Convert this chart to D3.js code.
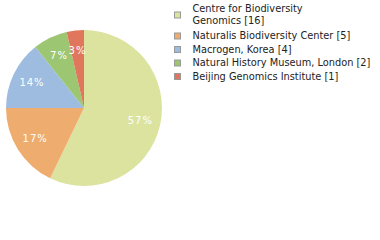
<!DOCTYPE html>
<html><head><meta charset="utf-8">
<script src="https://cdn.jsdelivr.net/npm/d3@7"></script>
<style>html,body{margin:0;padding:0;background:#fff;}</style>
</head><body>
<script>
const categories = ["Centre for Biodiversity Genomics", "Naturalis Biodiversity Center", "Macrogen, Korea", "Natural History Museum, London", "Beijing Genomics Institute"];
const counts = [16, 5, 4, 2, 1];
const percentLabels = ["57%", "17%", "14%", "7%", "3%"];
const legendLines = [["Centre for Biodiversity", "Genomics [16]"], ["Naturalis Biodiversity Center [5]"], ["Macrogen, Korea [4]"], ["Natural History Museum, London [2]"], ["Beijing Genomics Institute [1]"]];
const colors = ["#dce39f", "#eeac6e", "#9dbce0", "#9cc672", "#e0765c"];

const W = 380, H = 240;
const svg = d3.select("body").append("svg").attr("width", W).attr("height", H);
const cx = 84, cy = 108, r = 78;
const data = categories.map((c, i) => ({c, v: counts[i], i}));
const pie = d3.pie().value(d => d.v).sort(null);
const arcs = pie(data);
const arc = d3.arc().innerRadius(0).outerRadius(r);
const labelArc = d3.arc().innerRadius(r * 0.74).outerRadius(r * 0.74);
const g = svg.append("g").attr("transform", `translate(${cx},${cy})`);
g.selectAll("path").data(arcs).join("path").attr("d", arc).attr("fill", d => colors[d.data.i]);
g.selectAll("text").data(arcs).join("text")
  .attr("transform", d => `translate(${labelArc.centroid(d)})`)
  .attr("text-anchor", "middle").attr("dominant-baseline", "central")
  .attr("fill", "#fff").attr("font-family", "DejaVu Sans, Verdana, sans-serif")
  .attr("font-size", 10).attr("letter-spacing", 1)
  .text(d => percentLabels[d.data.i]);

const lg = svg.append("g");
let base = 12;
const lineH = 12;
legendLines.forEach((lines, i) => {
  const lastBase = base + lineH * (lines.length - 1);
  const bottom = (base + lastBase) / 2;
  lg.append("rect").attr("x", 174.5).attr("y", bottom - 6).attr("width", 6).attr("height", 6)
    .attr("fill", colors[i]).attr("stroke", "#999").attr("stroke-width", 1);
  lines.forEach((t, j) => {
    lg.append("text").attr("x", 192.5).attr("y", base + lineH * j)
      .attr("font-family", "DejaVu Sans, Verdana, sans-serif").attr("font-size", 9.8)
      .attr("fill", "#222").text(t);
  });
  base = lastBase + (lines.length === 2 ? 15 : 13.5);
});
</script>
</body></html>
